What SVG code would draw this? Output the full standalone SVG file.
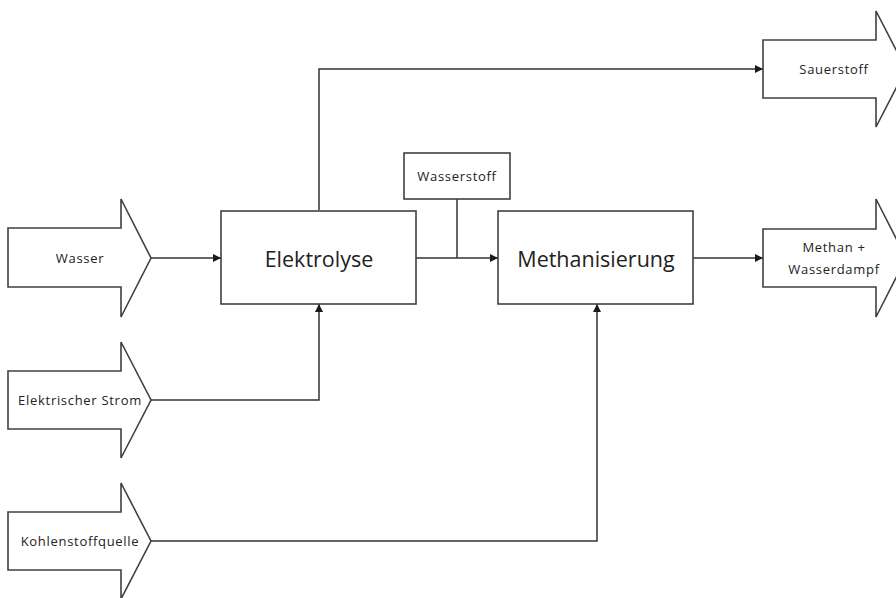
<svg xmlns="http://www.w3.org/2000/svg" width="896" height="598" viewBox="0 0 896 598">
<defs>
<marker id="ah" viewBox="0 0 10 10" refX="10" refY="5" markerWidth="8" markerHeight="8" markerUnits="userSpaceOnUse" orient="auto">
<path d="M0,0 L10,5 L0,10 z" fill="#1a1a1a"/>
</marker>
</defs>
<style>
.shape{fill:#fff;stroke:#404040;stroke-width:1.6}
.line{fill:none;stroke:#333;stroke-width:1.5}
.s{font-family:"Open Sans","Liberation Sans",sans-serif;font-size:13px;letter-spacing:0.7px;fill:#222;text-anchor:middle;dominant-baseline:central}
.b{font-family:"Open Sans","Liberation Sans",sans-serif;font-size:21.5px;fill:#222;text-anchor:middle;dominant-baseline:central}
</style>
<rect width="896" height="598" fill="#fff"/>
<g id="connectors">
<polyline class="line" points="151,258 221,258" marker-end="url(#ah)"/>
<polyline class="line" points="151,400 319,400 319,304" marker-end="url(#ah)"/>
<polyline class="line" points="151,541 597,541 597,304" marker-end="url(#ah)"/>
<polyline class="line" points="319,210 319,69 763,69" marker-end="url(#ah)"/>
<polyline class="line" points="416,258 498,258" marker-end="url(#ah)"/>
<polyline class="line" points="457,199 457,258"/>
<polyline class="line" points="693,258 763,258" marker-end="url(#ah)"/>
</g>
<g id="wasser">
<path class="shape" d="M8,228 H121 V199 L151,258 L121,317 V287 H8 Z"/>
<text class="s" x="80" y="258">Wasser</text>
</g>
<g id="strom">
<path class="shape" d="M8,371 H121 V342 L151,400 L121,458 V429 H8 Z"/>
<text class="s" x="80" y="400">Elektrischer Strom</text>
</g>
<g id="kohlenstoff">
<path class="shape" d="M8,512 H121 V483 L151,541 L121,599 V570 H8 Z"/>
<text class="s" x="80" y="541">Kohlenstoffquelle</text>
</g>
<g id="elektrolyse">
<rect class="shape" x="221" y="211" width="195" height="93"/>
<text class="b" x="319" y="258">Elektrolyse</text>
</g>
<g id="methanisierung">
<rect class="shape" x="498" y="211" width="195" height="93"/>
<text class="b" x="596" y="258">Methanisierung</text>
</g>
<g id="wasserstoff">
<rect class="shape" x="404" y="153" width="106" height="46"/>
<text class="s" x="457" y="176">Wasserstoff</text>
</g>
<g id="sauerstoff">
<path class="shape" d="M763,40 H876 V11 L906,69 L876,127 V98 H763 Z"/>
<text class="s" x="834" y="69">Sauerstoff</text>
</g>
<g id="methan">
<path class="shape" d="M763,229 H876 V199 L906,258 L876,317 V287 H763 Z"/>
<text class="s" x="834" y="247">Methan +</text>
<text class="s" x="834" y="269">Wasserdampf</text>
</g>
</svg>
